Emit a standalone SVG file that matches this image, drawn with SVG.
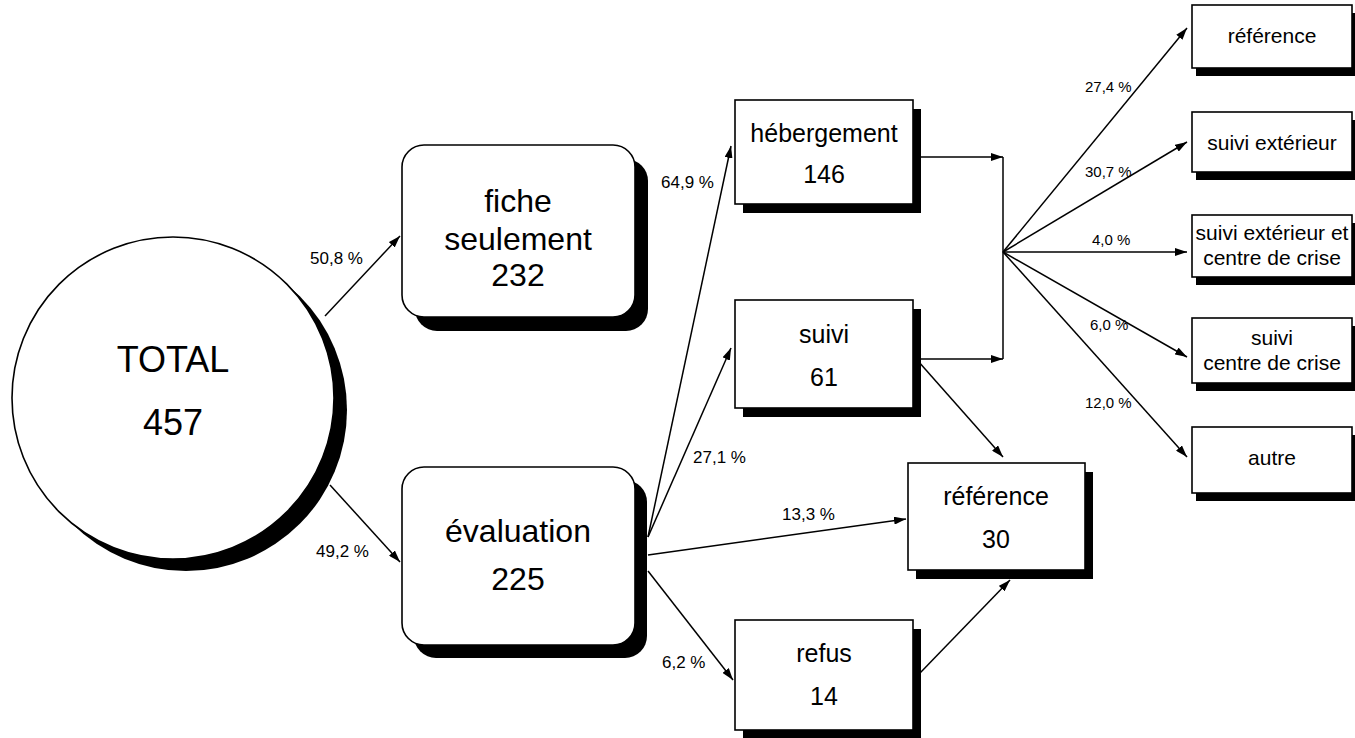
<svg xmlns="http://www.w3.org/2000/svg" width="1355" height="738" viewBox="0 0 1355 738">
<defs>
<style>
.box{fill:#fff;stroke:#000;stroke-width:1.6}
.sh{fill:#000}
.t{font-family:"Liberation Sans",Arial,sans-serif;fill:#000;text-anchor:middle}
.big{font-size:36px}
.mid{font-size:32px}
.med{font-size:25px}
.sm{font-size:21px}
.pl{font-family:"Liberation Sans",Arial,sans-serif;font-size:17px;fill:#000}
.pr{font-family:"Liberation Sans",Arial,sans-serif;font-size:15px;fill:#000}
.c{fill:none;stroke:#000;stroke-width:1.5}
</style>
<marker id="ah" viewBox="0 0 12 8" refX="12" refY="4" markerWidth="12" markerHeight="8" orient="auto" markerUnits="userSpaceOnUse"><path d="M0,0 L12,4 L0,8 z" fill="#000"/></marker>
</defs>
<rect width="1355" height="738" fill="#fff"/>

<g id="connectors">
<line class="c" x1="325" y1="316" x2="400" y2="236" marker-end="url(#ah)"/>
<line class="c" x1="330" y1="485" x2="400" y2="562" marker-end="url(#ah)"/>
<line class="c" x1="648" y1="537" x2="731" y2="146" marker-end="url(#ah)"/>
<line class="c" x1="648" y1="537" x2="731" y2="348" marker-end="url(#ah)"/>
<line class="c" x1="648" y1="555" x2="906" y2="519" marker-end="url(#ah)"/>
<line class="c" x1="648" y1="571" x2="733" y2="680" marker-end="url(#ah)"/>
<line class="c" x1="918" y1="361" x2="1003" y2="457" marker-end="url(#ah)"/>
<line class="c" x1="920" y1="673" x2="1010" y2="580" marker-end="url(#ah)"/>
<line class="c" x1="913" y1="157" x2="1003" y2="157" marker-end="url(#ah)"/>
<line class="c" x1="913" y1="359" x2="1003" y2="359" marker-end="url(#ah)"/>
<line class="c" x1="1003" y1="157" x2="1003" y2="359"/>
<line class="c" x1="1003" y1="252" x2="1187" y2="28" marker-end="url(#ah)"/>
<line class="c" x1="1003" y1="252" x2="1187" y2="142" marker-end="url(#ah)"/>
<line class="c" x1="1003" y1="252" x2="1187" y2="252" marker-end="url(#ah)"/>
<line class="c" x1="1003" y1="252" x2="1187" y2="357" marker-end="url(#ah)"/>
<line class="c" x1="1003" y1="252" x2="1187" y2="457" marker-end="url(#ah)"/>
<text class="pl" x="310" y="264">50,8 %</text>
<text class="pl" x="316" y="557">49,2 %</text>
<text class="pl" x="661" y="188">64,9 %</text>
<text class="pl" x="693" y="463">27,1 %</text>
<text class="pl" x="782" y="520">13,3 %</text>
<text class="pl" x="662" y="668">6,2 %</text>
<text class="pr" x="1085" y="92">27,4 %</text>
<text class="pr" x="1085" y="177">30,7 %</text>
<text class="pr" x="1092" y="245">4,0 %</text>
<text class="pr" x="1090" y="330">6,0 %</text>
<text class="pr" x="1085" y="408">12,0 %</text>
</g>

<g id="total">
<circle class="sh" cx="186" cy="410" r="161"/>
<circle class="box" cx="173" cy="398" r="161"/>
<text class="t big" x="173" y="372">TOTAL</text>
<text class="t big" x="173" y="435">457</text>
</g>

<g id="fiche">
<rect class="sh" x="415" y="159" width="233" height="172" rx="22"/>
<rect class="box" x="402" y="145" width="233" height="172" rx="22"/>
<text class="t mid" x="518" y="212">fiche</text>
<text class="t mid" x="518" y="250">seulement</text>
<text class="t mid" x="518" y="286">232</text>
</g>

<g id="evaluation">
<rect class="sh" x="414" y="480" width="233" height="178" rx="22"/>
<rect class="box" x="402" y="467" width="233" height="178" rx="22"/>
<text class="t mid" x="518" y="542">évaluation</text>
<text class="t mid" x="518" y="590">225</text>
</g>

<g id="hebergement">
<rect class="sh" x="743" y="109" width="178" height="104"/>
<rect class="box" x="735" y="100" width="178" height="104"/>
<text class="t med" x="824" y="142">hébergement</text>
<text class="t med" x="824" y="183">146</text>
</g>

<g id="suivi">
<rect class="sh" x="743" y="309" width="178" height="108"/>
<rect class="box" x="735" y="300" width="178" height="108"/>
<text class="t med" x="824" y="343">suivi</text>
<text class="t med" x="824" y="386">61</text>
</g>

<g id="reference30">
<rect class="sh" x="916" y="472" width="177" height="107"/>
<rect class="box" x="908" y="463" width="177" height="107"/>
<text class="t med" x="996" y="505">référence</text>
<text class="t med" x="996" y="548">30</text>
</g>

<g id="refus">
<rect class="sh" x="743" y="629" width="178" height="110"/>
<rect class="box" x="735" y="620" width="178" height="110"/>
<text class="t med" x="824" y="662">refus</text>
<text class="t med" x="824" y="705">14</text>
</g>

<g id="r-reference">
<rect class="sh" x="1196" y="13" width="160" height="63"/>
<rect class="box" x="1192" y="5" width="160" height="63"/>
<text class="t sm" x="1272" y="43">référence</text>
</g>

<g id="r-suivi-ext">
<rect class="sh" x="1196" y="120" width="160" height="60"/>
<rect class="box" x="1192" y="112" width="160" height="60"/>
<text class="t sm" x="1272" y="150">suivi extérieur</text>
</g>

<g id="r-suivi-ext-crise">
<rect class="sh" x="1196" y="223" width="160" height="62"/>
<rect class="box" x="1192" y="215" width="160" height="62"/>
<text class="t sm" x="1272" y="240">suivi extérieur et</text>
<text class="t sm" x="1272" y="265">centre de crise</text>
</g>

<g id="r-suivi-crise">
<rect class="sh" x="1196" y="326" width="160" height="65"/>
<rect class="box" x="1192" y="318" width="160" height="65"/>
<text class="t sm" x="1272" y="345">suivi</text>
<text class="t sm" x="1272" y="370">centre de crise</text>
</g>

<g id="r-autre">
<rect class="sh" x="1196" y="435" width="160" height="66"/>
<rect class="box" x="1192" y="427" width="160" height="66"/>
<text class="t sm" x="1272" y="465">autre</text>
</g>
</svg>
